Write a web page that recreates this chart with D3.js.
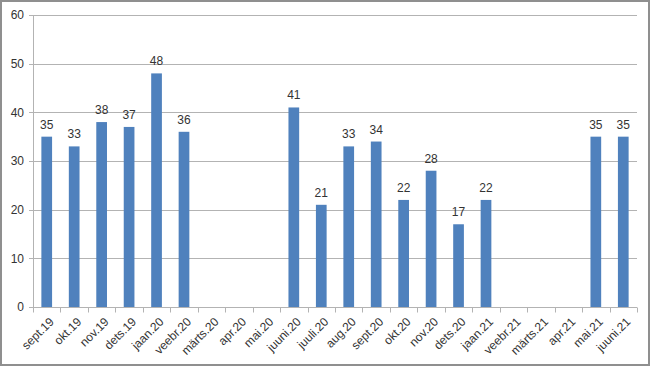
<!DOCTYPE html>
<meta charset="utf-8">
<style>
    body { margin: 0; background: #fff; }
    svg { display: block; }
    .grid line { stroke: #b3b3b3; stroke-width: 1px; }
    .axis text { font-family: "Liberation Sans", Arial, sans-serif; fill: #333; }
</style>
<svg width="650" height="367"></svg>
<script src="https://d3js.org/d3.v7.min.js"></script>
<script>

    // months and counts (empty months are null)
    var months = ["sept.19", "okt.19", "nov.19", "dets.19", "jaan.20", "veebr.20", "märts.20", "apr.20",
        "mai.20", "juuni.20", "juuli.20", "aug.20", "sept.20", "okt.20", "nov.20", "dets.20", "jaan.21",
        "veebr.21", "märts.21", "apr.21", "mai.21", "juuni.21"];
    var counts = [35, 33, 38, 37, 48, 36, null, null, null, 41, 21, 33, 34, 22, 28, 17, 22,
        null, null, null, 35, 35];
    var yTicks = [0, 10, 20, 30, 40, 50, 60];

    var svg = d3.select("svg"),
        margin = {top: 15, right: 13, bottom: 60, left: 33},
        width = svg.attr("width") - margin.left - margin.right,
        height = svg.attr("height") - margin.top - margin.bottom;

    // outer frame
    svg.append("rect")
        .attr("x", 1).attr("y", 1)
        .attr("width", 648).attr("height", 364)
        .attr("fill", "#fff")
        .attr("stroke", "#8f8f8f")
        .attr("stroke-width", 2);

    var g = svg.append("g").attr("transform", "translate(" + margin.left + "," + margin.top + ")");

    var data = months.map(function(m, i) { return {month: m, value: counts[i]}; });

    var x = d3.scaleBand().domain(months).range([0, width]).paddingInner(0.61).paddingOuter(0.305);
    var y = d3.scaleLinear().domain([0, 60]).range([height, 0]);

    // horizontal gridlines
    g.append("g")
        .attr("class", "grid")
        .selectAll("line")
        .data(yTicks)
        .enter().append("line")
        .attr("x1", -4)
        .attr("x2", width)
        .attr("y1", function(d) { return Math.round(y(d)) + 0.5; })
        .attr("y2", function(d) { return Math.round(y(d)) + 0.5; });

    // y axis
    var yAxis = g.append("g")
        .attr("class", "axis")
        .call(d3.axisLeft(y).tickValues(yTicks).tickSize(0).tickPadding(9));
    yAxis.select(".domain").attr("stroke", "#b3b3b3").attr("d", "M0.5,0V" + height);
    yAxis.selectAll("text").style("font-size", "12px");

    // bars
    g.selectAll(".bar")
        .data(data.filter(function(d) { return d.value != null; }))
        .enter().append("rect")
        .attr("class", "bar")
        .attr("x", function(d) { return x(d.month); })
        .attr("y", function(d) { return y(d.value); })
        .attr("width", x.bandwidth())
        .attr("height", function(d) { return height - y(d.value); })
        .attr("fill", "#4f81bd");

    // value labels
    g.selectAll(".label")
        .data(data.filter(function(d) { return d.value != null; }))
        .enter().append("text")
        .attr("class", "label")
        .attr("x", function(d) { return x(d.month) + x.bandwidth() / 2; })
        .attr("y", function(d) { return y(d.value) - 8; })
        .attr("text-anchor", "middle")
        .style("font", "12px 'Liberation Sans', Arial, sans-serif")
        .style("fill", "#333")
        .text(function(d) { return d.value; });

    // x axis with ticks at category boundaries
    var xAxis = g.append("g")
        .attr("class", "axis")
        .attr("transform", "translate(0," + (Math.round(height) + 0.5) + ")");
    xAxis.append("line")
        .attr("x1", 0).attr("x2", width)
        .attr("stroke", "#b3b3b3");
    xAxis.selectAll(".tick")
        .data(d3.range(months.length + 1))
        .enter().append("line")
        .attr("x1", function(i) { return Math.round(i * x.step()) + 0.5; })
        .attr("x2", function(i) { return Math.round(i * x.step()) + 0.5; })
        .attr("y1", 0).attr("y2", 5)
        .attr("stroke", "#b3b3b3");
    xAxis.selectAll("text")
        .data(months)
        .enter().append("text")
        .attr("transform", function(d) {
            return "translate(" + (x(d) + x.bandwidth() / 2 + 2) + ",9) rotate(-45)";
        })
        .attr("text-anchor", "end")
        .attr("dy", "0.7em")
        .style("font-size", "12px")
        .text(function(d) { return d; });

</script>
